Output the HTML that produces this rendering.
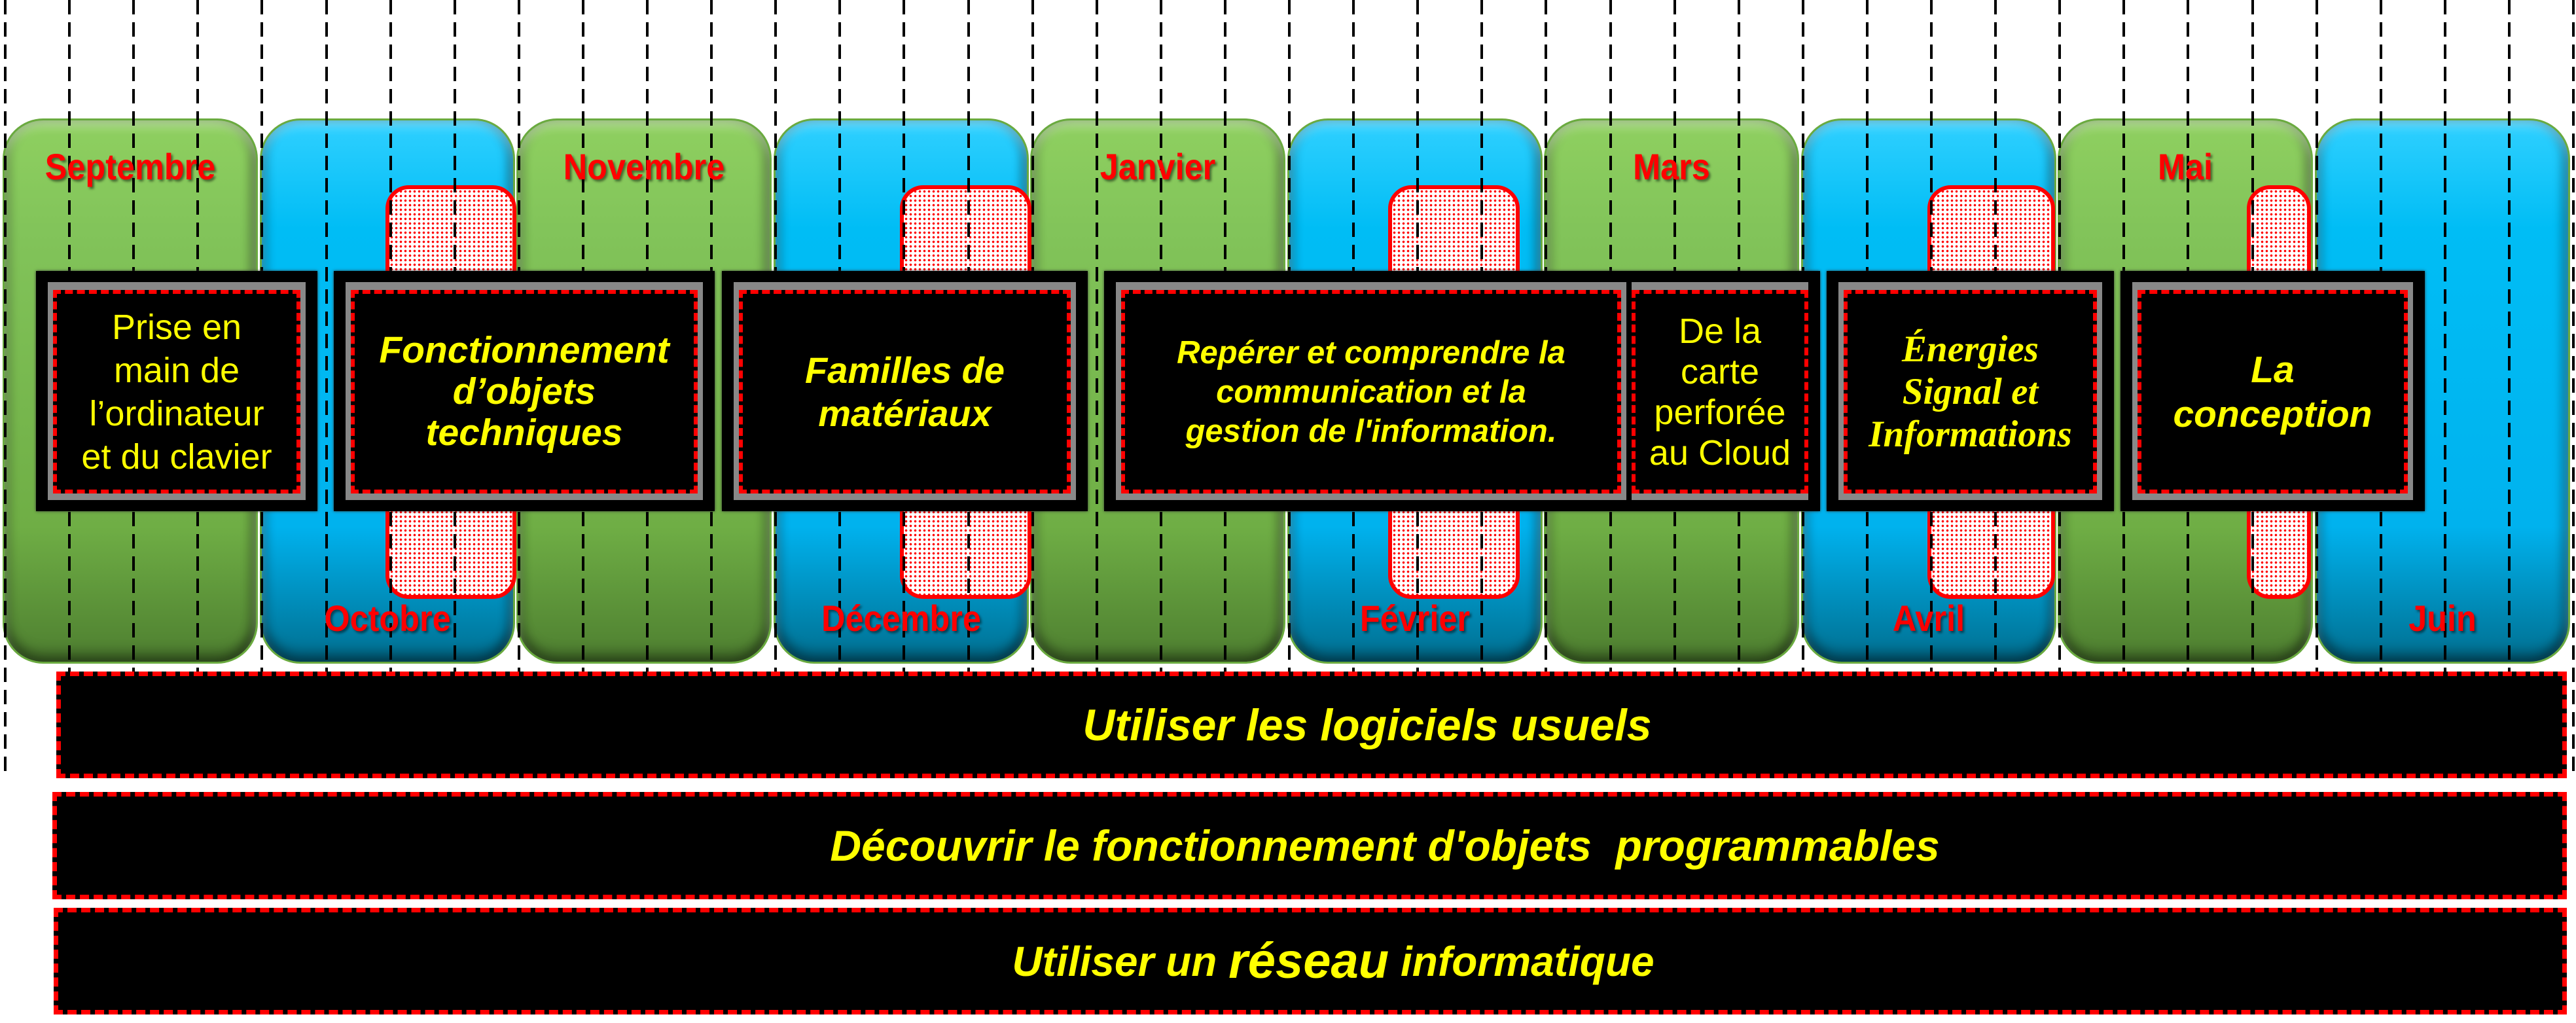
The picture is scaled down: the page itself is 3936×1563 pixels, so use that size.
<!DOCTYPE html>
<html><head><meta charset="utf-8"><style>
*{margin:0;padding:0;box-sizing:border-box}
body{width:3936px;height:1563px;background:#fff;position:relative;overflow:hidden;font-family:"Liberation Sans",sans-serif}
.m{position:absolute;top:181px;height:833px;width:390px;border-radius:62px}
.g{background:linear-gradient(180deg,#8fd060 0%,#82c45a 20%,#6fae45 75%,#4e7f30 100%);box-shadow:inset 0 10px 14px rgba(255,255,255,.35),inset 0 -14px 18px rgba(0,0,0,.35),inset 10px 0 14px rgba(0,0,0,.15),inset -10px 0 14px rgba(0,0,0,.25);border:3px solid #6aaa3f}
.b{background:linear-gradient(180deg,#30d0ff 0%,#00bdf5 20%,#00b2ee 75%,#006f90 100%);box-shadow:inset 0 10px 14px rgba(255,255,255,.3),inset 0 -14px 18px rgba(0,0,0,.35),inset 10px 0 14px rgba(0,0,0,.15),inset -10px 0 14px rgba(0,0,0,.25);border:3px solid #6aaa3f}
.lbl{position:absolute;width:390px;text-align:center;font-weight:bold;color:#f00;font-size:56px;text-shadow:3px 3px 4px rgba(0,0,0,.5);transform:scaleX(.9)}
.vl{position:absolute;top:0;height:1188px;width:4px;background:repeating-linear-gradient(180deg,#000 0 22px,transparent 22px 34px)}
.h{position:absolute;top:283px;height:632px;border:6px solid #f00;border-radius:36px;background-color:#fff;background-image:radial-gradient(circle,#f00 1.6px,transparent 2px);background-size:7px 7px}
.bx{position:absolute;top:414px;height:367px;background:#000;box-shadow:0 0 4px #333}
.gr{position:absolute;left:18px;right:18px;top:17px;bottom:17px;background:#888}
.in{position:absolute;left:8px;right:8px;top:12px;bottom:10px;background:#000;border:6px dashed #f00;display:flex;align-items:center;justify-content:center;text-align:center;color:#ff0}
.bar{position:absolute;left:84px;width:3838px;background:#000;border:7px dashed #f00;display:flex;align-items:center;justify-content:center;color:#ff0;font-weight:bold;font-style:italic;font-size:68px}
</style></head><body>
<div class="m g" style="left:4px"></div>
<div class="m b" style="left:397px"></div>
<div class="m g" style="left:789px"></div>
<div class="m b" style="left:1182px"></div>
<div class="m g" style="left:1574px"></div>
<div class="m b" style="left:1967px"></div>
<div class="m g" style="left:2359px"></div>
<div class="m b" style="left:2752px"></div>
<div class="m g" style="left:3144px"></div>
<div class="m b" style="left:3537px"></div>

<div class="h" style="left:589px;width:200px"></div>
<div class="h" style="left:1375px;width:201px"></div>
<div class="h" style="left:2121px;width:201px"></div>
<div class="h" style="left:2945px;width:195px"></div>
<div class="h" style="left:3433px;width:98px"></div>

<div id="lines"></div>
<script>
var s='';for(var k=0;k<41;k++){s+='<div class="vl" style="left:'+(6+98.1*k).toFixed(1)+'px"></div>';}
document.getElementById('lines').innerHTML=s;
</script>

<div class="lbl" style="left:4px;top:222px">Septembre</div>
<div class="lbl" style="left:789px;top:222px">Novembre</div>
<div class="lbl" style="left:1574px;top:222px">Janvier</div>
<div class="lbl" style="left:2359px;top:222px">Mars</div>
<div class="lbl" style="left:3144px;top:222px">Mai</div>
<div class="lbl" style="left:397px;top:912px">Octobre</div>
<div class="lbl" style="left:1182px;top:912px">Décembre</div>
<div class="lbl" style="left:1967px;top:912px">Février</div>
<div class="lbl" style="left:2752px;top:912px">Avril</div>
<div class="lbl" style="left:3537px;top:912px">Juin</div>

<div class="bx" style="left:55px;width:430px"><div class="gr"><div class="in" style="font-size:54px;line-height:66px">Prise en<br>main de<br>l’ordinateur<br>et du clavier</div></div></div>
<div class="bx" style="left:510px;width:582px"><div class="gr"><div class="in" style="font-size:57px;line-height:63px;font-weight:bold;font-style:italic">Fonctionnement<br>d’objets<br>techniques</div></div></div>
<div class="bx" style="left:1103px;width:559px"><div class="gr"><div class="in" style="font-size:56px;line-height:66px;font-weight:bold;font-style:italic">Familles de<br>matériaux</div></div></div>
<div class="bx" style="left:1687px;width:1094px"><div class="gr" style="right:296px"><div class="in" style="font-size:49px;line-height:60px;font-weight:bold;font-style:italic">Repérer et comprendre la<br>communication et la<br>gestion de l'information.</div></div>
<div class="gr" style="left:806px;right:18px"><div class="in" style="left:0;right:0;font-size:54px;line-height:62px">De la<br>carte<br>perforée<br>au Cloud</div></div></div>
<div class="bx" style="left:2791px;width:439px"><div class="gr"><div class="in" style="font-family:'Liberation Serif',serif;font-size:57px;line-height:65px;font-weight:bold;font-style:italic">Énergies<br>Signal et<br>Informations</div></div></div>
<div class="bx" style="left:3240px;width:465px"><div class="gr"><div class="in" style="font-size:57px;line-height:68px;font-weight:bold;font-style:italic">La<br>conception</div></div></div>

<div class="bar" style="top:1026px;height:163px;left:86px;width:3836px;padding-left:170px">Utiliser les logiciels usuels</div>
<div class="bar" style="top:1210px;height:164px;left:80px;width:3842px;padding-left:230px;font-size:66px">Découvrir le fonctionnement d'objets&nbsp; programmables</div>
<div class="bar" style="top:1387px;height:163px;left:82px;width:3840px;padding-left:70px;font-size:64px">Utiliser un&nbsp;<span style="font-size:76px">réseau</span>&nbsp;informatique</div>
</body></html>
